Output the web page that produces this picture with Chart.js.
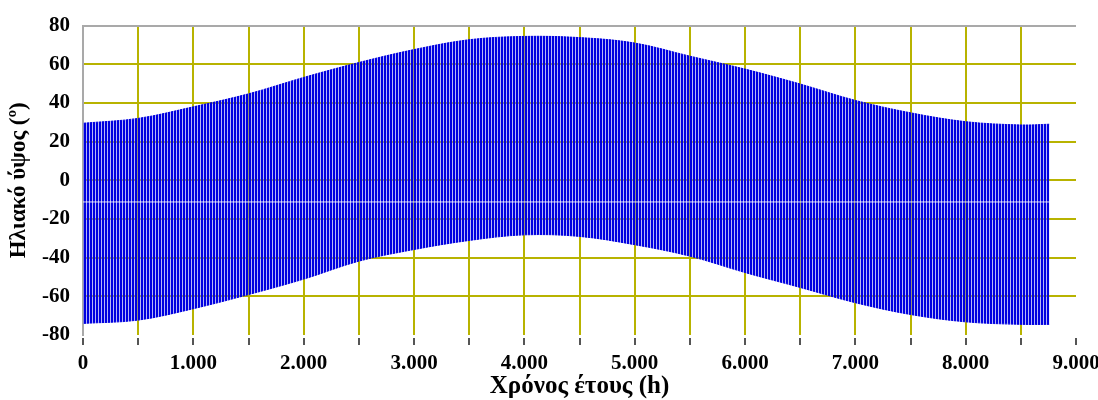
<!DOCTYPE html>
<html>
<head>
<meta charset="utf-8">
<script src="https://cdn.jsdelivr.net/npm/chart.js@4/dist/chart.umd.min.js"></script>
<style>
  body { margin: 0; background: #fff; }
</style>
</head>
<body>
<canvas id="chart" width="1098" height="400"></canvas>
<script>
// envelope of the hourly solar altitude, every 500 h
const hours = [0, 500, 1000, 1500, 2000, 2500, 3000, 3500, 4000, 4500, 5000, 5500, 6000, 6500, 7000, 7500, 8000, 8500, 8760];
const dailyMax = [29.5, 32, 38, 44.7, 53.2, 60.9, 67.6, 72.7, 74.4, 73.8, 71, 64.2, 57.5, 49.8, 41.3, 34.9, 30.3, 28.6, 29];
const dailyMin = [-74, -72.3, -66.4, -59.1, -51.1, -41.8, -35.8, -31.1, -28.2, -29, -33.3, -39.2, -47.7, -55.4, -63.3, -69.4, -73.2, -74.5, -74.5];
// the thin white line running through the band
const whiteLineHours = [0, 8760];
const whiteLineValue = [-11.2, -11.2];

const xTicks = [0, 1000, 2000, 3000, 4000, 5000, 6000, 7000, 8000, 9000];
const yTicks = [-80, -60, -40, -20, 0, 20, 40, 60, 80];

const OLIVE = "#b8b300";
const GREY = "#a9a9a9";
const SERIF = "'Liberation Serif', 'Times New Roman', serif";
const TICK_FONT = { family: SERIF, size: 21, weight: "bold" };

// striped fill to mimic the dense hourly line
function stripes() {
  const c = document.createElement("canvas");
  c.width = 3;
  c.height = 1;
  const g = c.getContext("2d");
  g.fillStyle = "#0000e0";
  g.fillRect(0, 0, 2, 1);
  g.fillStyle = "rgba(110,110,240,0.5)";
  g.fillRect(2, 0, 1, 1);
  return g.createPattern(c, "repeat");
}
const ctx = document.getElementById("chart").getContext("2d");
const pattern = stripes();

const toPts = (xs, ys) => xs.map((x, i) => ({ x: x, y: ys[i] }));

// little detached tick marks under the plot
const tickMarks = {
  id: "tickMarks",
  afterDraw(chart) {
    const sx = chart.scales.x;
    const c = chart.ctx;
    c.save();
    c.strokeStyle = "#555";
    c.lineWidth = 2;
    for (const t of sx.ticks) {
      const px = Math.round(sx.getPixelForValue(t.value));
      c.beginPath();
      c.moveTo(px, 338);
      c.lineTo(px, 345);
      c.stroke();
    }
    c.restore();
  },
};

new Chart(ctx, {
  type: "line",
  data: {
    datasets: [
      {
        data: toPts(whiteLineHours, whiteLineValue),
        borderColor: "rgba(255,255,255,0.85)",
        borderWidth: 1,
        pointRadius: 0,
        fill: false,
      },
      {
        data: toPts(hours, dailyMin),
        borderColor: pattern,
        borderWidth: 1,
        pointRadius: 0,
        tension: 0.35,
        fill: false,
      },
      {
        data: toPts(hours, dailyMax),
        borderColor: pattern,
        borderWidth: 1,
        pointRadius: 0,
        tension: 0.35,
        backgroundColor: pattern,
        fill: "-1",
      },
    ],
  },
  options: {
    responsive: false,
    devicePixelRatio: 1,
    animation: false,
    layout: { padding: { top: 21, right: 22, bottom: 0, left: 0 } },
    plugins: { legend: { display: false }, tooltip: { enabled: false } },
    scales: {
      x: {
        type: "linear",
        min: 0,
        max: 9000,
        afterBuildTicks: (s) => {
          s.ticks = [];
          for (let v = 0; v <= 9000; v += 500) s.ticks.push({ value: v });
        },
        afterFit: (s) => {
          s.height = 65;
          s.paddingLeft = 0;
          s.paddingRight = 0;
        },
        ticks: {
          autoSkip: false,
          maxRotation: 0,
          padding: 16,
          color: "#000",
          font: TICK_FONT,
          callback: (v) => {
            if (!xTicks.includes(v)) return "";
            return v == 0 ? "0" : v / 1000 + ".000";
          },
        },
        grid: {
          drawTicks: false,
          lineWidth: 2,
          color: (c) => (c.tick && (c.tick.value == 0 || c.tick.value == 9000) ? "rgba(0,0,0,0)" : OLIVE),
        },
        border: { display: false },
        title: {
          display: true,
          text: "Χρόνος έτους (h)",
          color: "#000",
          font: { family: SERIF, size: 25, weight: "bold" },
          padding: { top: 0, bottom: -2 },
        },
      },
      y: {
        min: -80,
        max: 80,
        afterBuildTicks: (s) => {
          s.ticks = yTicks.map((v) => ({ value: v }));
        },
        afterFit: (s) => {
          s.width = 83;
        },
        ticks: { padding: 13, color: "#000", font: TICK_FONT },
        grid: {
          drawTicks: false,
          lineWidth: 2,
          color: (c) => {
            if (!c.tick) return OLIVE;
            if (c.tick.value == 80) return GREY;
            if (c.tick.value == -80) return "rgba(0,0,0,0)";
            return OLIVE;
          },
        },
        border: { display: true, color: GREY, width: 2 },
        title: {
          display: true,
          text: "Ηλιακό ύψος (º)",
          color: "#000",
          font: { family: SERIF, size: 23, weight: "bold" },
          padding: { top: 5, bottom: 0 },
        },
      },
    },
  },
  plugins: [tickMarks],
});
</script>
</body>
</html>
